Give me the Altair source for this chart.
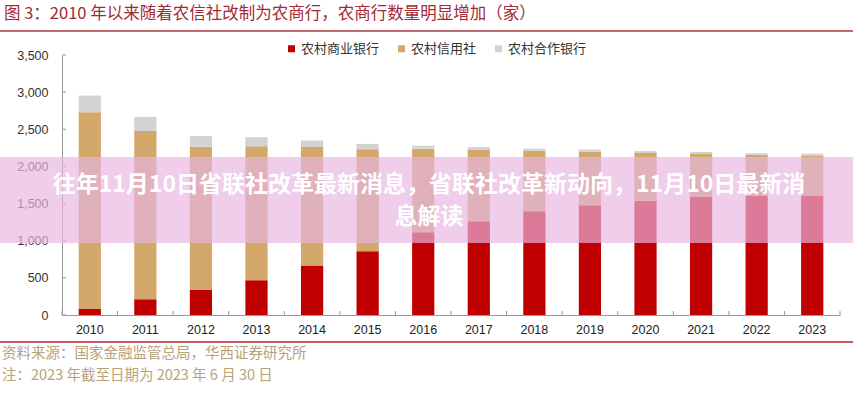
import altair as alt
import pandas as pd

years = [str(y) for y in range(2010, 2024)]
rcb = [85, 212, 337, 468, 665, 859, 1114, 1262, 1397, 1478, 1539, 1596, 1606, 1607]
rcc = [2646, 2265, 1927, 1803, 1596, 1373, 1125, 965, 812, 722, 641, 577, 549, 542]
rcoop = [223, 190, 147, 122, 89, 71, 40, 33, 30, 28, 27, 23, 23, 23]
series = ["农村商业银行", "农村信用社", "农村合作银行"]
colors = ["#C00000", "#D4A76A", "#D3D3D3"]
y_ticks = [0, 500, 1000, 1500, 2000, 2500, 3000, 3500]

title_text = "图 3：2010 年以来随着农信社改制为农商行，农商行数量明显增加（家）"
source_text = "资料来源：国家金融监管总局，华西证券研究所"
note_text = "注：2023 年截至日期为 2023 年 6 月 30 日"
banner_line1 = "往年11月10日省联社改革最新消息，省联社改革新动向，11月10日最新消"
banner_line2 = "息解读"

rows = []
for i, y in enumerate(years):
    for k, (name, vals) in enumerate(zip(series, [rcb, rcc, rcoop])):
        rows.append({"year": y, "series": name, "value": vals[i], "k": k})
df = pd.DataFrame(rows)

W, H = 778, 260
L, T = 62, 55
FONT = "Liberation Sans"
CJK = "Noto Sans CJK SC"

x_scale = alt.Scale(domain=years, paddingInner=0.6, paddingOuter=0.3)
x_axis = alt.Axis(labelAngle=0, labelFontSize=12.5, labelColor="#222",
                  labelFont=FONT, ticks=False, domainColor="#999",
                  labelPadding=8)
y_scale = alt.Scale(domain=[0, 3500])
y_axis = alt.Axis(values=y_ticks, format=",d", labelFontSize=12.5,
                  labelColor="#333", labelFont=FONT, ticks=False,
                  grid=False, domainColor="#999", labelPadding=14)

bars = alt.Chart(df).mark_bar().encode(
    x=alt.X("year:N", sort=years, title=None, scale=x_scale, axis=x_axis),
    y=alt.Y("sum(value):Q", title=None, stack="zero", scale=y_scale, axis=y_axis),
    color=alt.Color("series:N", sort=series,
                    scale=alt.Scale(domain=series, range=colors),
                    legend=alt.Legend(orient="none", legendX=223, legendY=-13,
                                      direction="horizontal", title=None,
                                      symbolType="square", symbolSize=49,
                                      symbolStrokeWidth=0,
                                      labelFont=CJK, labelFontSize=13,
                                      labelColor="#333", columnPadding=15,
                                      labelOffset=3)),
    order=alt.Order("k:Q", sort="ascending"),
)

ytick_df = pd.DataFrame({"v": y_ticks})
yticks = alt.Chart(ytick_df).mark_rule(color="#999").encode(
    y=alt.Y("v:Q", title=None, scale=y_scale, axis=y_axis),
    x=alt.value(0), x2=alt.value(4))

xtick_df = pd.DataFrame({"year": years})
step = W / 14
xticks = alt.Chart(xtick_df).mark_rule(color="#999", xOffset=-step / 2).encode(
    x=alt.X("year:N", sort=years, title=None, scale=x_scale, axis=x_axis),
    y=alt.value(H), y2=alt.value(H - 4))

one = alt.Data(values=[{}])
xtick_end = alt.Chart(one).mark_rule(color="#999").encode(
    x=alt.value(W), y=alt.value(H), y2=alt.value(H - 4))

title = alt.Chart(one).mark_text(align="left", baseline="middle", font=CJK,
                                  fontSize=16.5, color="#A32A35").encode(
    x=alt.value(4 - L), y=alt.value(14 - T), text=alt.value(title_text))
title_line = alt.Chart(one).mark_rule(color="#A83A40", strokeWidth=1.5).encode(
    x=alt.value(-L), x2=alt.value(853 - L), y=alt.value(31 - T))
bottom_line = alt.Chart(one).mark_rule(color="#B22030", strokeWidth=1.5).encode(
    x=alt.value(-L), x2=alt.value(853 - L), y=alt.value(342 - T))
source = alt.Chart(one).mark_text(align="left", baseline="middle", font=CJK,
                                   fontSize=14.5, color="#B9A27A").encode(
    x=alt.value(2 - L), y=alt.value(354 - T), text=alt.value(source_text))
note = alt.Chart(one).mark_text(align="left", baseline="middle", font=CJK,
                                 fontSize=14.5, color="#B9A27A").encode(
    x=alt.value(2 - L), y=alt.value(376 - T), text=alt.value(note_text))

banner = alt.Chart(one).mark_rect(color="#E7B5E1", opacity=0.68).encode(
    x=alt.value(-L), x2=alt.value(853 - L), y=alt.value(157 - T), y2=alt.value(243 - T))
b1 = alt.Chart(one).mark_text(align="center", baseline="middle", font=CJK,
                              fontSize=23, fontWeight="bold", color="white").encode(
    x=alt.value(429 - L), y=alt.value(185 - T), text=alt.value(banner_line1))
b2 = alt.Chart(one).mark_text(align="center", baseline="middle", font=CJK,
                              fontSize=23, fontWeight="bold", color="white").encode(
    x=alt.value(429 - L), y=alt.value(217 - T), text=alt.value(banner_line2))

chart = alt.layer(bars, yticks, xticks, xtick_end, title, title_line, bottom_line,
                  source, note, banner, b1, b2).properties(
    width=W, height=H,
    autosize=alt.AutoSizeParams(type="none"),
    padding={"left": L, "top": T, "right": 853 - L - W, "bottom": 400 - T - H},
    background="white",
).configure_view(stroke=None)

chart.save("out.html", embed_options={"renderer": "svg", "actions": False})
